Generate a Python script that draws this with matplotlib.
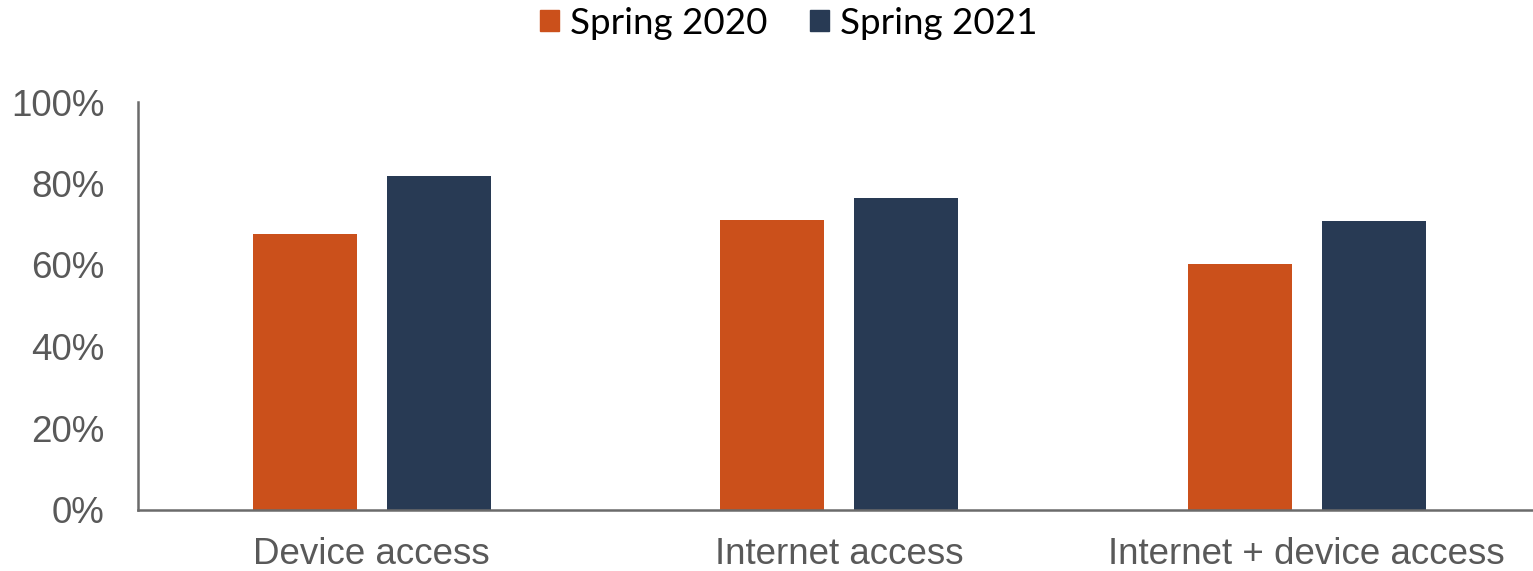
import matplotlib
matplotlib.use("Agg")
import matplotlib.pyplot as plt
from matplotlib.patches import Patch
import numpy as np

categories = ["Device access", "Internet access", "Internet + device access"]
series_names = ["Spring 2020", "Spring 2021"]
spring_2020 = [67.6, 71.1, 60.2]
spring_2021 = [81.9, 76.4, 70.9]
yticks = [0, 20, 40, 60, 80, 100]
ytick_labels = ["0%", "20%", "40%", "60%", "80%", "100%"]

c2020 = "#CB501B"
c2021 = "#283A54"
grey = "#595959"

fig = plt.figure(figsize=(15.33, 5.71), dpi=100)
ax = fig.add_axes([138/1533, 61.5/571, (1540.5-138)/1533, 407.5/571])

x = np.arange(len(categories))
w = 0.2225
off = 0.143
ax.bar(x - off, spring_2020, width=w, color=c2020)
ax.bar(x + off, spring_2021, width=w, color=c2021)

ax.set_xlim(-0.5, 2.5)
ax.set_ylim(0, 100)
ax.set_yticks(yticks)
ax.set_yticklabels(ytick_labels, fontsize=26.5, color=grey, family="Liberation Sans")
ax.set_xticks(x)
ax.set_xticklabels(categories, fontsize=26.5, color=grey, family="Liberation Sans")
ax.tick_params(axis="both", length=0)
ax.tick_params(axis="y", pad=24)
ax.tick_params(axis="x", pad=19.5)
for s in ["top", "right"]:
    ax.spines[s].set_visible(False)
for s in ["left", "bottom"]:
    ax.spines[s].set_color("#6b6b6b")
    ax.spines[s].set_linewidth(1.8)

handles = [Patch(color=c2020), Patch(color=c2021)]
fig.legend(handles, series_names, loc="center", bbox_to_anchor=(789/1533, 1 - 23/571),
           ncol=2, frameon=False, prop={"family": "Lato", "size": 26.5},
           handlelength=0.52, handleheight=0.52, handletextpad=0.3, columnspacing=1.15,
           borderaxespad=0, borderpad=0)

fig.savefig("out.png", dpi=100)
